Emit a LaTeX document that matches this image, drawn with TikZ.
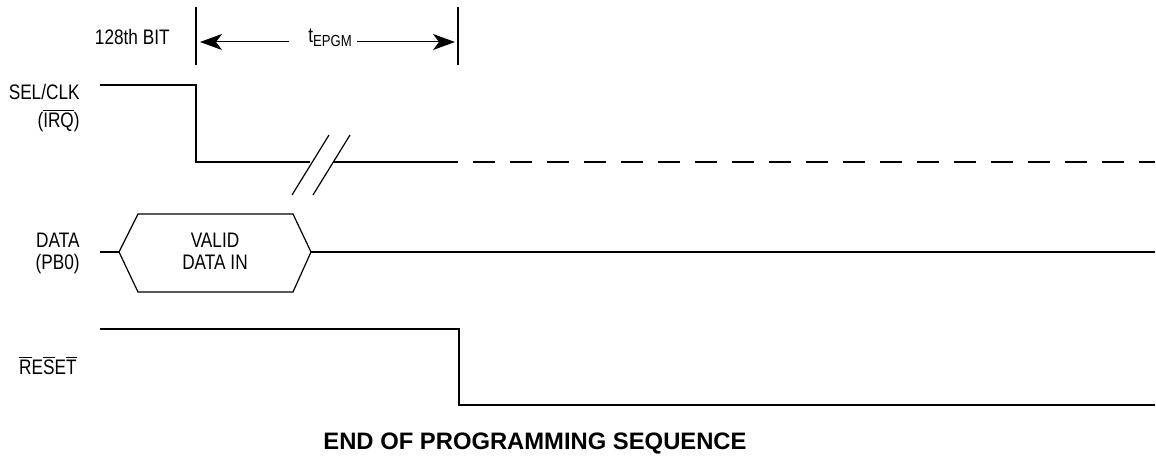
\documentclass[tikz,border=0pt]{standalone}
\usepackage{fontspec}
\setmainfont{Liberation Sans}[FakeStretch=0.82]
\newfontfamily\capfont{Liberation Sans}
\usetikzlibrary{positioning, arrows.meta}
\newcommand{\ovl}[1]{\ensuremath{\overline{\mbox{#1}}}}

\begin{document}
\begin{tikzpicture}[
    x=0.5pt, y=-0.5pt,
    lbl/.style={inner sep=0pt, font=\fontsize{10.5}{12}\selectfont},
    wave/.style={line width=1pt},
    fine/.style={line width=0.6pt},
    dim/.style={-{Stealth[length=11pt, width=8pt, inset=3pt]}, line width=0.5pt}
]
\useasboundingbox (0,0) rectangle (1156,459);

% Labels
\node[lbl, anchor=base east] (bit) at (170,45) {128th BIT};
\node[lbl, anchor=base east] (sel) at (80,100) {SEL/CLK};
\node[lbl, anchor=base east] (irq) at (80,128) {(\ovl{IRQ})};
\node[lbl, anchor=base east] (data) at (80,248) {DATA};
\node[lbl, anchor=base east] (pb0) at (80,270) {(PB0)};
\node[lbl, anchor=base east] (reset) at (77,375) {\ovl{R}E\ovl{S}E\ovl{T}};
\node[lbl, anchor=base] (valid) at (215,248) {VALID};
\node[lbl, anchor=base] (datain) at (215,270) {DATA IN};
\node[lbl, anchor=base] (tepgm) at (330,43) {t\raisebox{-2pt}{\fontsize{8}{9}\selectfont EPGM}};
\node[anchor=base, inner sep=0pt, font=\capfont\bfseries\fontsize{11.9}{14}\selectfont] (caption) at (535,450) {END OF PROGRAMMING SEQUENCE};

% Timing markers
\coordinate (m1) at (196,42);
\coordinate (m2) at (458,42);
\draw[fine] (196,7) -- (196,65);
\draw[fine] (458,7) -- (458,65);
\draw[dim, shorten >=2pt] ([xshift=-9.5pt]tepgm.west |- m1) -- (m1);
\draw[dim, shorten >=1.5pt] ([xshift=2.5pt]tepgm.east |- m2) -- (m2);

% SEL/CLK
\draw[wave] (100,85) -- (196,85) -- (196,162) -- (310,162);
\draw[wave] (333,162) -- (458,162);
\draw[wave, dash pattern=on 11pt off 7.5pt] (473,162) -- (1155,162);
\draw[fine] (292,195) -- (329,135);
\draw[fine] (313,195) -- (350,135);

% DATA
\draw[wave] (100,252) -- (119,252);
\draw[fine] (119,252) -- (138,214) -- (293,214) -- (311,252) -- (293,292) -- (138,292) -- cycle;
\draw[wave] (311,252) -- (1155,252);

% RESET
\draw[wave] (100,329) -- (459,329) -- (459,405) -- (1155,405);

\end{tikzpicture}
\end{document}
